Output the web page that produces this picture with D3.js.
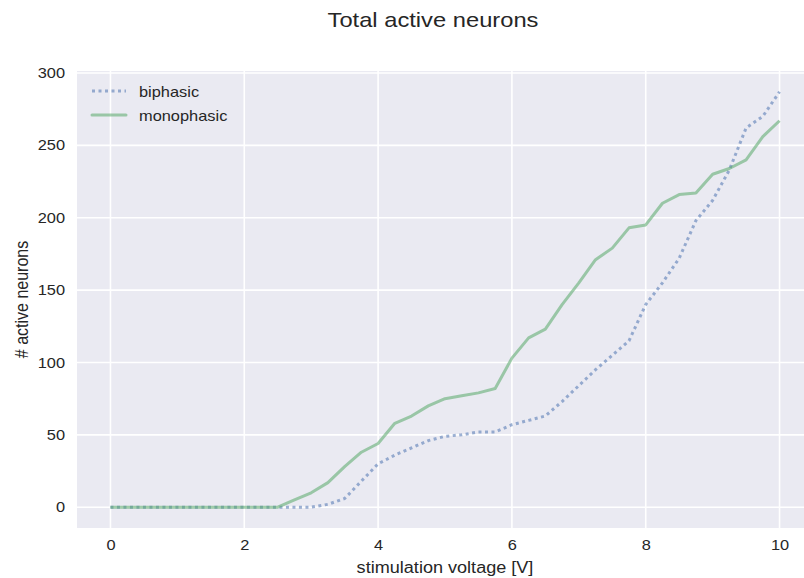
<!DOCTYPE html>
<html>
<head>
<meta charset="utf-8">
<script src="https://cdn.jsdelivr.net/npm/d3@7"></script>
<style>
  html, body { margin: 0; padding: 0; background: #ffffff; }
  svg { display: block; }
  text { font-family: "Liberation Sans", Arial, sans-serif; fill: #262626; }
</style>
</head>
<body>
<svg id="chart" width="804" height="578"></svg>
<script>
// Stimulation voltage steps [V]
const voltage = [0, 0.25, 0.5, 0.75, 1, 1.25, 1.5, 1.75, 2, 2.25, 2.5, 2.75,
  3, 3.25, 3.5, 3.75, 4, 4.25, 4.5, 4.75, 5, 5.25, 5.5, 5.75,
  6, 6.25, 6.5, 6.75, 7, 7.25, 7.5, 7.75, 8, 8.25, 8.5, 8.75,
  9, 9.25, 9.5, 9.75, 10];

// Total active neurons per stimulation type
const biphasic = [0, 0, 0, 0, 0, 0, 0, 0, 0, 0, 0, 0,
  0, 2, 6, 18, 30, 36, 41, 46, 49, 50, 52, 52,
  57, 60, 63, 73, 84, 95, 105, 115, 140, 155, 172, 198,
  212, 233, 262, 270, 287];
const monophasic = [0, 0, 0, 0, 0, 0, 0, 0, 0, 0, 0, 5,
  10, 17, 28, 38, 44, 58, 63, 70, 75, 77, 79, 82,
  103, 117, 123, 140, 155, 171, 179, 193, 195, 210, 216, 217,
  230, 234, 240, 256, 267];

const xTicks = [0, 2, 4, 6, 8, 10];
const yTicks = [0, 50, 100, 150, 200, 250, 300];

const seriesNames = ["biphasic", "monophasic"];
const seriesColors = ["#4C72B0", "#55A868"];

// Text is drawn slightly widened
const stretch = 1.13;

const svg = d3.select("#chart");
const margin = { left: 77, top: 71, right: 813, bottom: 528 };

const x = d3.scaleLinear().domain([-0.5, 10.5]).range([margin.left, margin.right]);
const y = d3.scaleLinear().domain([-14.35, 301.35]).range([margin.bottom, margin.top]);

// Plot background
svg.append("rect")
  .attr("x", margin.left).attr("y", margin.top)
  .attr("width", margin.right - margin.left)
  .attr("height", margin.bottom - margin.top)
  .attr("fill", "#EAEAF2");

// Grid lines
const grid = svg.append("g");
grid.selectAll("line.xg").data(xTicks).join("line")
  .attr("class", "xg")
  .attr("x1", d => x(d)).attr("x2", d => x(d))
  .attr("y1", margin.top).attr("y2", margin.bottom)
  .attr("stroke", "#ffffff").attr("stroke-width", 1.6);
grid.selectAll("line.yg").data(yTicks).join("line")
  .attr("class", "yg")
  .attr("x1", margin.left).attr("x2", margin.right)
  .attr("y1", d => y(d)).attr("y2", d => y(d))
  .attr("stroke", "#ffffff").attr("stroke-width", 1.6);

// Axes (labels only, no tick marks or spines)
const xAxis = svg.append("g")
  .attr("transform", `translate(0,${margin.bottom})`)
  .call(d3.axisBottom(x).tickValues(xTicks).tickSize(0).tickPadding(12).tickFormat(d3.format("d")));
const yAxis = svg.append("g")
  .attr("transform", `translate(${margin.left},0)`)
  .call(d3.axisLeft(y).tickValues(yTicks).tickSize(0).tickPadding(10.6).tickFormat(d3.format("d")));
[xAxis, yAxis].forEach(a => {
  a.select(".domain").remove();
  a.selectAll("text")
    .attr("font-size", 14.5)
    .attr("fill", "#262626")
    .attr("font-family", "'Liberation Sans', Arial, sans-serif")
    .attr("transform", `scale(${stretch},1)`);
});

// Lines
const line = d3.line().x((d, i) => x(voltage[i])).y(d => y(d));
const plot = svg.append("g");
plot.append("path")
  .datum(biphasic)
  .attr("d", line)
  .attr("fill", "none")
  .attr("stroke", seriesColors[0])
  .attr("stroke-opacity", 0.55)
  .attr("stroke-width", 3)
  .attr("stroke-dasharray", "3,3.5");
plot.append("path")
  .datum(monophasic)
  .attr("d", line)
  .attr("fill", "none")
  .attr("stroke", seriesColors[1])
  .attr("stroke-opacity", 0.55)
  .attr("stroke-width", 3)
  .attr("stroke-linejoin", "round");

// Legend
const legend = svg.append("g");
seriesNames.forEach((name, i) => {
  const ly = 91 + i * 24;
  legend.append("line")
    .attr("x1", 92).attr("x2", 126)
    .attr("y1", ly).attr("y2", ly)
    .attr("stroke", seriesColors[i])
    .attr("stroke-opacity", 0.55)
    .attr("stroke-width", 3)
    .attr("stroke-linecap", i === 1 ? "round" : "butt")
    .attr("stroke-dasharray", i === 0 ? "3,3.5" : null);
  legend.append("text")
    .attr("transform", `translate(139,${ly + 6}) scale(${stretch},1)`)
    .attr("font-size", 14.5)
    .text(name);
});

// Title and axis labels
svg.append("text")
  .attr("transform", `translate(433,27) scale(${stretch},1)`)
  .attr("text-anchor", "middle")
  .attr("font-size", 21)
  .text("Total active neurons");
svg.append("text")
  .attr("transform", `translate(445,573) scale(${stretch},1)`)
  .attr("text-anchor", "middle")
  .attr("font-size", 16)
  .text("stimulation voltage [V]");
svg.append("text")
  .attr("transform", `translate(28,${(margin.top + margin.bottom) / 2}) rotate(-90) scale(1,${stretch})`)
  .attr("text-anchor", "middle")
  .attr("font-size", 16)
  .text("# active neurons");
</script>
</body>
</html>
